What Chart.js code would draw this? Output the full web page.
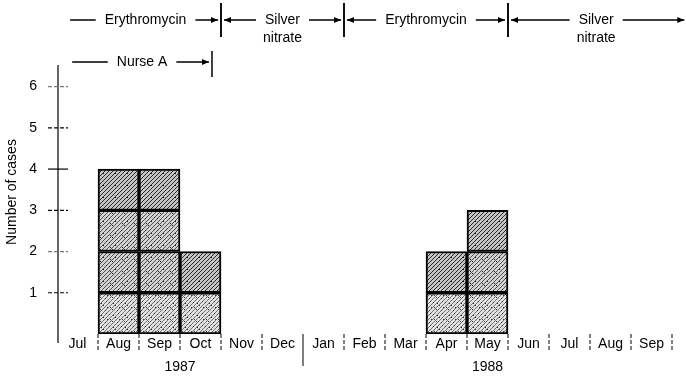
<!DOCTYPE html>
<html><head><meta charset="utf-8">
<script src="https://cdn.jsdelivr.net/npm/chart.js@4"></script>
<style>html,body{margin:0;padding:0;background:#fff}#wrap{width:686px;height:376px}</style>
</head><body><div id="wrap"><canvas id="c" width="686" height="376"></canvas></div>
<script>
const months = ['Jul','Aug','Sep','Oct','Nov','Dec','Jan','Feb','Mar','Apr','May','Jun','Jul','Aug','Sep'];
const cases = [0,4,4,2,0,0,0,0,0,2,3,0,0,0,0];
const yTicks = [1,2,3,4,5,6];
const years = [{label:'1987', from:0, to:6},{label:'1988', from:6, to:15}];
const periods = [
  {lines:['Erythromycin'], from:0.32, to:4, la:false, lb:false, ra:true, rb:true},
  {lines:['Silver','nitrate'], from:4, to:7, la:true, lb:true, ra:true, rb:true},
  {lines:['Erythromycin'], from:7, to:11, la:true, lb:true, ra:true, rb:true},
  {lines:['Silver','nitrate'], from:11, to:15.3, la:true, lb:true, ra:true, rb:false}
];
const nurse = {lines:['Nurse A'], from:0.37, to:3.78, la:false, lb:false, ra:true, rb:true};
const FONT = '"Liberation Sans", Arial, sans-serif';

function makePattern(bg, lineCol, dotCol, nd) {
  const s = 4, c = document.createElement('canvas');
  c.width = 12; c.height = 12;
  const g = c.getContext('2d');
  g.fillStyle = bg; g.fillRect(0,0,12,12);
  g.strokeStyle = lineCol; g.lineWidth = 1;
  for (let k = -12; k <= 24; k += s) {
    g.beginPath(); g.moveTo(k, 12); g.lineTo(k + 12, 0); g.stroke();
  }
  g.fillStyle = dotCol;
  const pts = [[1,2],[7,5],[4,9],[10,1],[2,7],[9,10],[5,3],[11,7]];
  for (let i = 0; i < nd; i++) g.fillRect(pts[i][0], pts[i][1], 1, 1);
  return g.createPattern(c, 'repeat');
}
const patDark = makePattern('#c4c4c4', '#2a2a2a', '#111', 2);
const patMid = makePattern('#d2d2d2', '#505050', '#222', 5);
const patLight = makePattern('#e2e2e2', '#707070', '#333', 8);

const maxLayer = Math.max(...cases);
const datasets = [];
for (let k = 1; k <= maxLayer; k++) {
  datasets.push({
    data: cases.map(v => v >= k ? 1 : 0),
    backgroundColor: (c) => {
      const v = cases[c.dataIndex];
      if (k === v) return patDark;
      if (k >= 2) return patMid;
      return patLight;
    },
    borderColor: '#000', borderWidth: 2, borderSkipped: false,
    categoryPercentage: 1, barPercentage: 1
  });
}

function arrowHead(g, x, y, dir) {
  g.beginPath(); g.moveTo(x, y); g.lineTo(x - dir*7, y - 3); g.lineTo(x - dir*7, y + 3); g.closePath(); g.fill();
}
function drawPeriod(g, xs, p, y, barTop, barBot) {
  const x1 = xs.left + p.from * xs.w, x2 = xs.left + p.to * xs.w;
  const cx = (x1 + x2) / 2;
  g.font = '14px ' + FONT; g.textAlign = 'center'; g.textBaseline = 'middle'; g.fillStyle = '#000';
  p.lines.forEach((t, i) => g.fillText(t, cx, y + i * 18));
  const tw = g.measureText(p.lines[0]).width;
  g.strokeStyle = '#000'; g.lineWidth = 1.3;
  const a = x1 + (p.lb ? 3 : 0), b = x2 - (p.rb ? 3 : 0);
  g.beginPath(); g.moveTo(a, y); g.lineTo(cx - tw/2 - 9, y);
  g.moveTo(cx + tw/2 + 9, y); g.lineTo(b, y); g.stroke();
  if (p.la) arrowHead(g, a, y, -1);
  if (p.ra) arrowHead(g, b, y, 1);
  g.lineWidth = 1.5;
  if (p.lb) { g.beginPath(); g.moveTo(x1, barTop); g.lineTo(x1, barBot); g.stroke(); }
  if (p.rb) { g.beginPath(); g.moveTo(x2, barTop); g.lineTo(x2, barBot); g.stroke(); }
}

const deco = {
  id: 'deco',
  afterDraw(chart) {
    const g = chart.ctx, ca = chart.chartArea, yS = chart.scales.y;
    const w = (ca.right - ca.left) / months.length;
    const xs = {left: ca.left, w};
    g.save();
    g.strokeStyle = '#000'; g.lineWidth = 1.2;
    g.beginPath(); g.moveTo(ca.left + 1, ca.top - 1); g.lineTo(ca.left + 1, ca.bottom + 9); g.stroke();
    yTicks.forEach(v => {
      const py = yS.getPixelForValue(v);
      g.setLineDash(v === 4 ? [] : [4, 2]);
      g.strokeStyle = (v === 2 || v === 6) ? '#777' : '#000';
      g.beginPath(); g.moveTo(ca.left - 9, py); g.lineTo(ca.left + 11, py); g.stroke();
    });
    g.setLineDash([]);
    g.strokeStyle = '#000'; g.lineWidth = 1;
    for (let i = 1; i < months.length + 1; i++) {
      const px = ca.left + i * w;
      const isYear = years.some(yr => yr.from === i && i > 0);
      g.setLineDash(isYear ? [] : [4, 2]);
      g.beginPath(); g.moveTo(px, ca.bottom); g.lineTo(px, isYear ? 366 : 350); g.stroke();
    }
    g.setLineDash([]);
    g.font = '14px ' + FONT; g.fillStyle = '#000'; g.textAlign = 'center'; g.textBaseline = 'middle';
    years.forEach(yr => g.fillText(yr.label, ca.left + (yr.from + yr.to) / 2 * w, 367));
    g.save(); g.translate(12, 192); g.rotate(-Math.PI / 2);
    g.fillText('Number of cases', 0, 0); g.restore();
    periods.forEach(p => drawPeriod(g, xs, p, 20, 3, 37));
    drawPeriod(g, xs, nurse, 62, 51, 77);
    g.restore();
  }
};

new Chart(document.getElementById('c'), {
  type: 'bar',
  data: { labels: months, datasets },
  options: {
    responsive: false, animation: false,
    layout: { padding: { top: 66, right: 14, left: 0, bottom: 0 } },
    plugins: { legend: { display: false }, tooltip: { enabled: false } },
    scales: {
      x: {
        stacked: true,
        grid: { display: false, drawTicks: false }, border: { display: false },
        ticks: { padding: 2, color: '#000', font: { family: FONT, size: 14 }, maxRotation: 0, autoSkip: false },
        afterFit: s => { s.height = 42; }
      },
      y: {
        stacked: true, min: 0, max: 6.5,
        grid: { display: false, drawTicks: false }, border: { display: false },
        afterBuildTicks: s => { s.ticks = yTicks.map(v => ({ value: v })); },
        ticks: { padding: 20, color: '#000', font: { family: FONT, size: 14 } },
        afterFit: s => { s.width = 57; }
      }
    }
  },
  plugins: [deco]
});
</script>
</body></html>
